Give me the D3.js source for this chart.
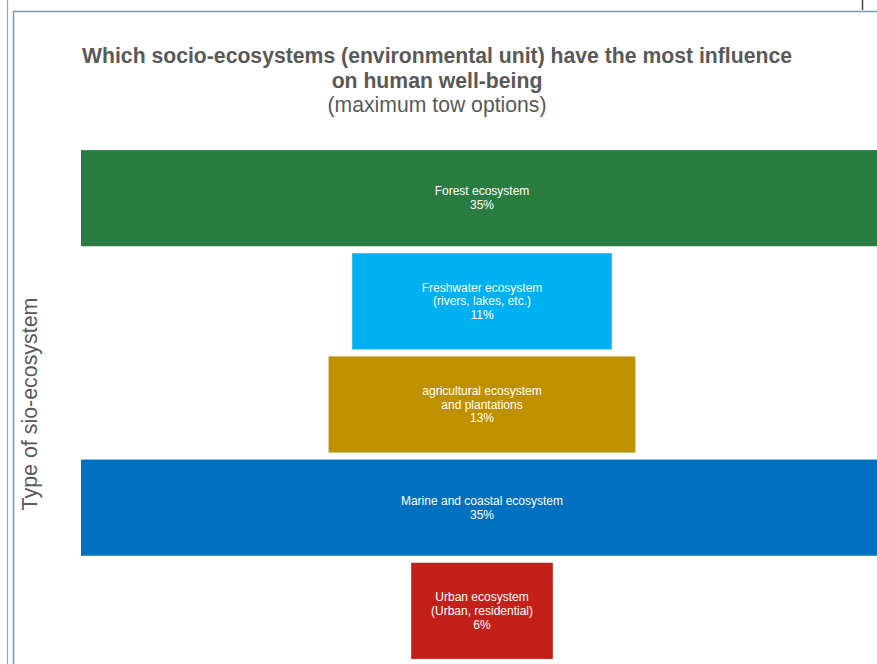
<!DOCTYPE html>
<html>
<head>
<meta charset="utf-8">
<script src="https://cdn.jsdelivr.net/npm/d3@7"></script>
<style>
  body { margin: 0; background: #fff; }
  svg { display: block; font-family: "Liberation Sans", Arial, sans-serif; }
</style>
</head>
<body>
<div id="chart"></div>
<script>
// Data
const categories = [
    ["Forest ecosystem"],
    ["Freshwater ecosystem", "(rivers, lakes, etc.)"],
    ["agricultural ecosystem", "and plantations"],
    ["Marine and coastal ecosystem"],
    ["Urban ecosystem", "(Urban, residential)"]
];
const values = [35, 11, 13, 35, 6];
const colors = ["#2a7d40", "#00b0f0", "#bf9000", "#0070c0", "#c4201a"];

const width = 877;
const height = 664;

const svg = d3.select("#chart").append("svg")
    .attr("width", width)
    .attr("height", height);

// frame lines from the source slide
svg.append("line").attr("x1", 7.5).attr("x2", 7.5).attr("y1", 0).attr("y2", height)
    .attr("stroke", "#8aa4cc").attr("stroke-width", 1.2);
svg.append("path").attr("d", `M13.5,${height} V11.5 H${width}`)
    .attr("fill", "none").attr("stroke", "#6f98d4").attr("stroke-width", 1.5);
svg.append("line").attr("x1", 862.5).attr("x2", 862.5).attr("y1", 0).attr("y2", 10)
    .attr("stroke", "#444").attr("stroke-width", 1.5);

// Title
const title = svg.append("text")
    .attr("text-anchor", "middle")
    .attr("fill", "#595959");
title.append("tspan").attr("x", 437).attr("y", 63)
    .attr("font-size", 21.2).attr("font-weight", "bold")
    .text("Which socio-ecosystems (environmental unit) have the most influence");
title.append("tspan").attr("x", 437).attr("y", 88)
    .attr("font-size", 21.2).attr("font-weight", "bold")
    .text("on human well-being");
title.append("tspan").attr("x", 437).attr("y", 112)
    .attr("font-size", 21.2)
    .text("(maximum tow options)");

// Axis title
svg.append("text")
    .attr("transform", "translate(37,404) rotate(-90)")
    .attr("text-anchor", "middle")
    .attr("fill", "#595959")
    .attr("font-size", 21.4)
    .text("Type of sio-ecosystem");

// Plot area
const plot = { left: 81, right: 883, top: 147, bottom: 662 };
const centerX = 482;

svg.append("clipPath").attr("id", "plotClip")
    .append("rect")
    .attr("x", plot.left).attr("y", plot.top)
    .attr("width", plot.right - plot.left)
    .attr("height", plot.bottom - plot.top);

const y = d3.scaleBand()
    .domain(d3.range(values.length))
    .range([plot.top, plot.bottom])
    .paddingInner(0.068)
    .paddingOuter(0.03);

const w = d3.scaleLinear()
    .domain([0, 1])
    .range([0, 23.6]);

const g = svg.append("g").attr("clip-path", "url(#plotClip)");

g.selectAll(".bar")
    .data(values)
    .enter()
    .append("rect")
    .attr("class", "bar")
    .attr("x", d => centerX - w(d) / 2)
    .attr("y", (d, i) => y(i))
    .attr("width", d => w(d))
    .attr("height", y.bandwidth())
    .attr("fill", (d, i) => colors[i]);

// Labels
const labels = svg.selectAll(".lbl")
    .data(values)
    .enter()
    .append("text")
    .attr("class", "lbl")
    .attr("text-anchor", "middle")
    .attr("fill", "#ffffff")
    .attr("font-size", 12);

labels.each(function (d, i) {
    const lines = categories[i].concat([d + "%"]);
    const lh = 13.8;
    const cy = y(i) + y.bandwidth() / 2;
    const start = cy - (lines.length - 1) * lh / 2 + 4;
    d3.select(this).selectAll("tspan")
        .data(lines)
        .enter()
        .append("tspan")
        .attr("x", centerX)
        .attr("y", (t, k) => start + k * lh)
        .text(t => t);
});
</script>
</body>
</html>
